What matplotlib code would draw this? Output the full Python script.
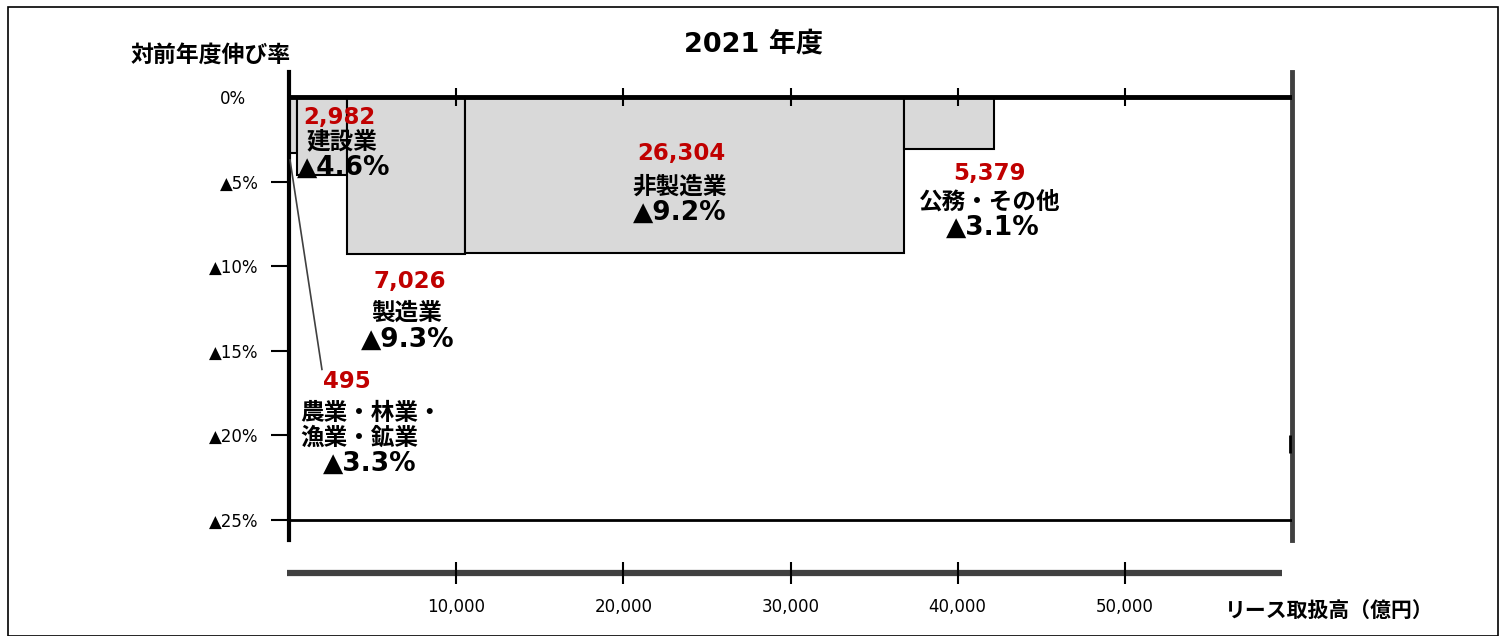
import matplotlib
matplotlib.use('Agg')
import matplotlib.pyplot as plt
import matplotlib.transforms as mtransforms
from matplotlib.patches import Rectangle
import numpy as np

# data
sectors = ['農業・林業・\n漁業・鉱業', '建設業', '製造業', '非製造業', '公務・その他']
amounts = [495, 2982, 7026, 26304, 5379]          # リース取扱高（億円）
growth = [-3.3, -4.6, -9.3, -9.2, -3.1]             # 対前年度伸び率（%）
y_ticks = [0, -5, -10, -15, -20, -25]
y_tick_labels = ['0%', '▲5%', '▲10%', '▲15%', '▲20%', '▲25%']
x_ticks = [10000, 20000, 30000, 40000, 50000]
x_tick_labels = ['10,000', '20,000', '30,000', '40,000', '50,000']

# label anchors (x in 億円, y in %): amount, sector, rate
label_pos = [
    ((3470, -16.84), (660, -19.4), (4850, -21.7)),
    ((2990, -1.24), (3170, -2.6), (3290, -4.2)),
    ((7240, -10.93), (7060, -12.77), (7120, -14.36)),
    ((23450, -3.31), (23390, -5.32), (23390, -6.86)),
    ((41930, -4.55), (41930, -6.2), (42110, -7.74)),
]

JP = ['Noto Sans CJK JP', 'DejaVu Sans']
NUM = ['DejaVu Sans']
NUM_JP = ['DejaVu Sans', 'Noto Sans CJK JP']
NARROW = ['Liberation Sans Narrow', 'DejaVu Sans']
RED = '#C00000'
DARK = '#404040'

W, H = 1505, 636
fig = plt.figure(figsize=(W / 100, H / 100), dpi=100)

# outer frame
fig.patches.append(Rectangle((8 / W, 0), (1498 - 8) / W, (H - 7) / H, transform=fig.transFigure,
                             fill=False, edgecolor='black', lw=1.2))

ax = fig.add_axes([289 / W, (H - 540) / H, (1292 - 289) / W, (540 - 72) / H])
ax.set_xlim(0, 60000)
ax.set_ylim(-25 - 20 / 84.6 * 5, 25 / 84.6 * 5)

lefts = np.concatenate([[0], np.cumsum(amounts)[:-1]])
ax.bar(lefts, growth, width=amounts, align='edge', color='#d9d9d9', edgecolor='black', lw=1.5, zorder=2)

ax.axhline(0, color='black', lw=3.5, zorder=3)
ax.axhline(-25, color='black', lw=2, zorder=3)
ax.vlines(x_ticks, -0.55, 0.55, color='black', lw=1.5, zorder=3)
# small mark on the right edge
ax.vlines([59880], -21.04, -19.97, color='black', lw=2, zorder=3)

for s in ['top', 'bottom']:
    ax.spines[s].set_visible(False)
ax.spines['left'].set_linewidth(3)
ax.spines['left'].set_color('black')
ax.spines['right'].set_linewidth(3.5)
ax.spines['right'].set_color(DARK)
ax.set_xticks([])
ax.set_yticks(y_ticks)
ax.set_yticklabels(y_tick_labels, family=NARROW, fontsize=12)
ax.tick_params(axis='y', length=13, width=1.5, pad=9)
ax.yaxis.get_major_ticks()[0].tick1line.set_visible(False)
zero_lab = ax.get_yticklabels()[0]
zero_lab.set_transform(zero_lab.get_transform() +
                       mtransforms.ScaledTranslation(-12 / 100, 0, fig.dpi_scale_trans))

for i in range(len(sectors)):
    p_amt, p_name, p_rate = label_pos[i]
    ha = 'left' if '\n' in sectors[i] else 'center'
    ax.text(p_amt[0], p_amt[1], f'{amounts[i]:,}', color=RED, fontsize=16.5, fontweight='bold',
            family=NUM, ha='center', va='center', zorder=4)
    ax.text(p_name[0], p_name[1], sectors[i], color='black', fontsize=17, fontweight='bold',
            family=JP, ha=ha, va='center', linespacing=1.0, zorder=4)
    ax.text(p_rate[0], p_rate[1], f'▲{abs(growth[i]):.1f}%', color='black', fontsize=19,
            fontweight='bold', family=NUM, ha='center', va='center', zorder=4)

# leader line for the narrow first bar
ax.plot([60, 1970], [-3.72, -16.1], color=DARK, lw=1.2, zorder=4)

# separate amount axis below
ax2 = fig.add_axes([289 / W, (H - 600) / H, (1292 - 289) / W, 54 / H])
ax2.set_xlim(0, 60000)
ax2.set_ylim(-1, 1)
ax2.axis('off')
ax2.plot([-120, 59400], [0, 0], color=DARK, lw=4.5, solid_capstyle='butt', clip_on=False)
ax2.vlines(x_ticks, -0.4, 0.4, color='black', lw=1.5, clip_on=False)
for xt, lab in zip(x_ticks, x_tick_labels):
    ax2.text(xt, -1.26, lab, family=NARROW, fontsize=12, ha='center', va='center', clip_on=False)

fig.text(754 / W, 1 - 45 / H, '2021 年度', family=NUM_JP, fontsize=19.5, fontweight='bold',
         ha='center', va='center')
fig.text(131 / W, 1 - 55 / H, '対前年度伸び率', family=JP, fontsize=16.5, fontweight='bold',
         ha='left', va='center')
fig.text(1225 / W, 1 - 610 / H, 'リース取扱高（億円）', family=JP, fontsize=15, fontweight='bold',
         ha='left', va='center')

fig.savefig('out.png', dpi=100)
